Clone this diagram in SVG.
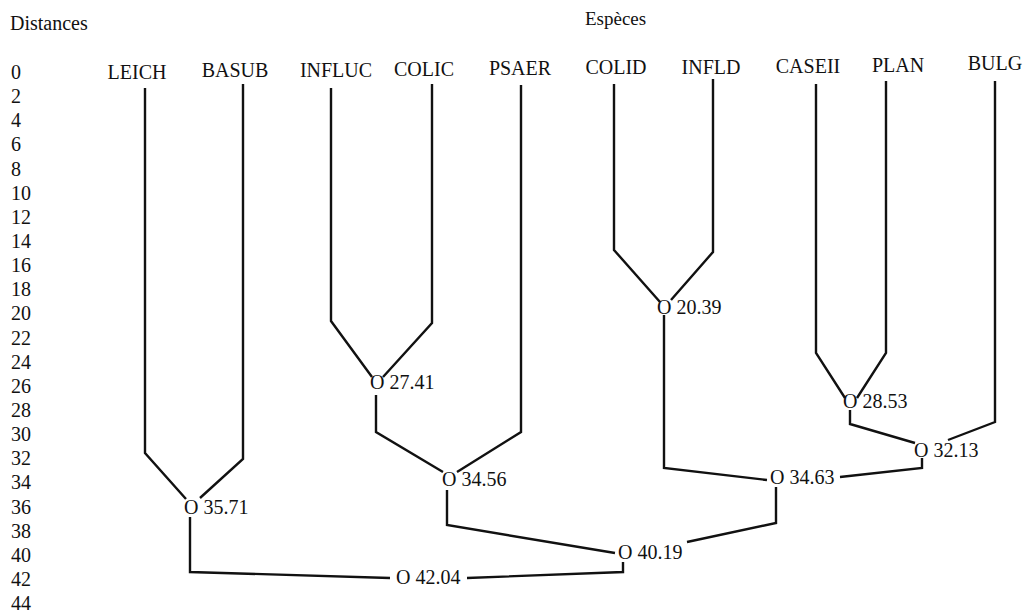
<svg xmlns="http://www.w3.org/2000/svg" width="1024" height="614" viewBox="0 0 1024 614" font-family="'Liberation Serif', 'Times New Roman', serif">
<style>
text{font-family:'Liberation Serif','Times New Roman',serif;font-size:20px;fill:#111}
.leaf{text-anchor:middle}
#connectors path{fill:none;stroke:#111;stroke-width:2.4;stroke-linejoin:miter}
</style>
<rect width="1024" height="614" fill="#fff"/>
<g id="titles">
<text x="10" y="30">Distances</text>
<text x="585" y="25" style="font-size:19px">Espèces</text>
</g>
<g id="axis">
<text x="11" y="79">0</text>
<text x="11" y="103">2</text>
<text x="11" y="127">4</text>
<text x="11" y="151">6</text>
<text x="11" y="176">8</text>
<text x="11" y="200">10</text>
<text x="11" y="224">12</text>
<text x="11" y="248">14</text>
<text x="11" y="272">16</text>
<text x="11" y="296">18</text>
<text x="11" y="320">20</text>
<text x="11" y="345">22</text>
<text x="11" y="369">24</text>
<text x="11" y="393">26</text>
<text x="11" y="417">28</text>
<text x="11" y="441">30</text>
<text x="11" y="465">32</text>
<text x="11" y="489">34</text>
<text x="11" y="514">36</text>
<text x="11" y="538">38</text>
<text x="11" y="562">40</text>
<text x="11" y="586">42</text>
<text x="11" y="610">44</text>
</g>
<g id="connectors">
<path d="M145,88 V453 L186,499"/>
<path d="M243,84 V459 L200,498"/>
<path d="M331,88 V321 L372,377"/>
<path d="M432,84 V323 L383,377"/>
<path d="M521,85 V432 L457,472"/>
<path d="M376,395 V432 L443,472"/>
<path d="M447,490 V525 L615,553"/>
<path d="M190,517 V572 L390,578"/>
<path d="M467,578 L623,572 V562"/>
<path d="M614,84 V250 L660,302"/>
<path d="M713,79 V252 L671,300"/>
<path d="M664,315 V468 L767,480"/>
<path d="M776,487 V523 L687,542"/>
<path d="M840,477 L922,468 V458"/>
<path d="M816,84 V353 L845,398"/>
<path d="M886,81 V353 L857,398"/>
<path d="M850,410 V424 L915,443"/>
<path d="M995,81 V422 L948,440"/>
</g>
<g id="leich"><text class="leaf" x="137" y="79">LEICH</text></g>
<g id="basub"><text class="leaf" x="235" y="77">BASUB</text></g>
<g id="influc"><text class="leaf" x="336" y="77">INFLUC</text></g>
<g id="colic"><text class="leaf" x="424" y="76">COLIC</text></g>
<g id="psaer"><text class="leaf" x="520" y="75">PSAER</text></g>
<g id="colid"><text class="leaf" x="616" y="74">COLID</text></g>
<g id="infld"><text class="leaf" x="711" y="74">INFLD</text></g>
<g id="caseii"><text class="leaf" x="808" y="73">CASEII</text></g>
<g id="plan"><text class="leaf" x="898" y="72">PLAN</text></g>
<g id="bulg"><text class="leaf" x="995" y="70">BULG</text></g>
<g id="n2039"><text x="657" y="314">O 20.39</text></g>
<g id="n2741"><text x="370" y="389">O 27.41</text></g>
<g id="n2853"><text x="843" y="408">O 28.53</text></g>
<g id="n3213"><text x="914" y="457">O 32.13</text></g>
<g id="n3456"><text x="442" y="486">O 34.56</text></g>
<g id="n3463"><text x="770" y="484">O 34.63</text></g>
<g id="n3571"><text x="184" y="514">O 35.71</text></g>
<g id="n4019"><text x="618" y="559">O 40.19</text></g>
<g id="n4204"><text x="396" y="584">O 42.04</text></g>
</svg>
